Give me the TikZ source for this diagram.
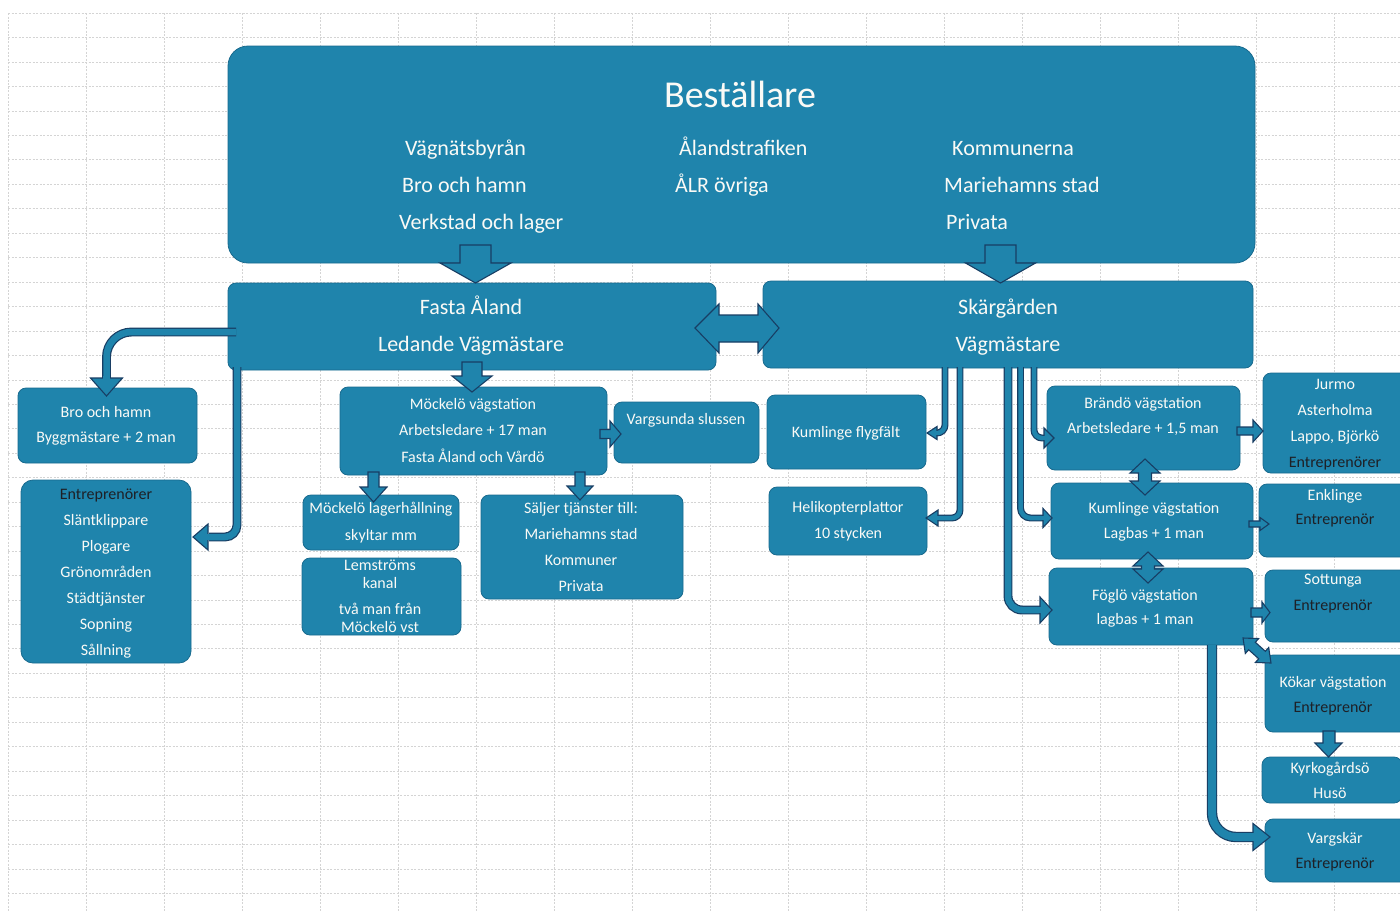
\documentclass[tikz,border=0pt]{standalone}
\usepackage{fontspec}
\setmainfont{Carlito}
\definecolor{teal1}{RGB}{31,132,172}
\definecolor{boxedge}{RGB}{24,106,142}
\definecolor{anav}{RGB}{24,62,100}
\definecolor{wtxt}{RGB}{250,250,246}
\definecolor{dtxt}{RGB}{30,32,38}
\definecolor{gridc}{RGB}{212,212,212}
\newcommand{\dk}[1]{\textcolor{dtxt}{#1}}
\newcommand{\boxlines}[6]{\foreach \ltext [count=\i] in {#6} {\node[#5] (#1-\i) at (#2,{#3+(\i-1)*#4}) {\ltext};}}
\newcommand{\headL}[5]{\filldraw[head] (#1,#2) -- (#1+#4,#2-#3) -- (#1+#4,#2+#3) -- cycle; \fill[teal1] (#1+#4-0.9,#2-#5) rectangle (#1+#4+1.6,#2+#5);}
\newcommand{\headR}[5]{\filldraw[head] (#1,#2) -- (#1-#4,#2-#3) -- (#1-#4,#2+#3) -- cycle; \fill[teal1] (#1-#4+0.9,#2-#5) rectangle (#1-#4-1.6,#2+#5);}
\newcommand{\headD}[5]{\filldraw[head] (#1,#2) -- (#1-#3,#2-#4) -- (#1+#3,#2-#4) -- cycle; \fill[teal1] (#1-#5,#2-#4+0.9) rectangle (#1+#5,#2-#4-1.6);}
\tikzset{
 box/.style={draw=boxedge, line width=0.8pt, fill=teal1, rounded corners=8pt, inner sep=0pt},
 ln/.style={inner sep=0pt, text height=10.3pt, text depth=0pt, text=wtxt, font=\fontsize{16}{19}\selectfont},
 lnh/.style={inner sep=0pt, text height=14.2pt, text depth=0pt, text=wtxt, font=\fontsize{22}{26}\selectfont},
 lnt/.style={inner sep=0pt, text height=24.5pt, text depth=0pt, text=wtxt, font=\fontsize{38}{44}\selectfont},
 blk/.style={draw=anav, fill=teal1, line width=1.1pt, line join=miter},
 head/.style={draw=anav, fill=teal1, line width=1.1pt, line join=miter},
 tube/.style={draw=anav, line width=1.2pt, double=teal1, double distance=#1pt},
 gridl/.style={draw=gridc, line width=0.5pt, dash pattern=on 2pt off 1.5pt},
}
\begin{document}
\begin{tikzpicture}[x=1pt,y=-1pt]
\clip (0,0) rectangle (1400,911);
\fill[white] (0,0) rectangle (1400,911);
% grid
\foreach \x in {8,86,...,1400} \draw[gridl] (\x,13) -- (\x,911);
\foreach \j in {0,...,36} \draw[gridl] (8,{13+\j*24.45}) -- (1400,{13+\j*24.45});

% boxes
\node[box, rounded corners=20pt, minimum width=1027pt, minimum height=217pt] (bestall) at (741.5,154.5) {};
\node[box, minimum width=488pt, minimum height=87pt] (fasta) at (472,326.5) {};
\node[box, minimum width=490pt, minimum height=87pt] (skar) at (1008,324.5) {};
\node[box, minimum width=179pt, minimum height=75pt] (bro) at (107.5,425.5) {};
\node[box, rounded corners=12pt, minimum width=170pt, minimum height=183pt] (entr) at (106,571.5) {};
\node[box, minimum width=267pt, minimum height=88pt] (mock) at (473.5,431) {};
\node[box, minimum width=145pt, minimum height=61pt] (vargs) at (686.5,432.5) {};
\node[box, minimum width=156pt, minimum height=55pt] (lager) at (381,522.5) {};
\node[box, minimum width=159pt, minimum height=77pt] (lem) at (381.5,596.5) {};
\node[box, minimum width=202pt, minimum height=104pt] (salj) at (582,547) {};
\node[box, minimum width=159pt, minimum height=74pt] (kfly) at (846.5,432) {};
\node[box, minimum width=158pt, minimum height=68pt] (heli) at (848,521) {};
\node[box, minimum width=193pt, minimum height=84pt] (brando) at (1143.5,428) {};
\node[box, minimum width=145pt, minimum height=100pt] (jurmo) at (1335.5,423) {};
\node[box, minimum width=202pt, minimum height=76pt] (kumv) at (1152,521) {};
\node[box, minimum width=149pt, minimum height=73pt] (enkl) at (1333.5,520.5) {};
\node[box, minimum width=204pt, minimum height=77pt] (fogl) at (1151,606.5) {};
\node[box, minimum width=143pt, minimum height=72pt] (sott) at (1336.5,606) {};
\node[box, minimum width=143pt, minimum height=77pt] (kokar) at (1336.5,693.5) {};
\node[box, minimum width=140pt, minimum height=46pt] (kyrk) at (1332,780) {};
\node[box, minimum width=143pt, minimum height=63pt] (vargsk) at (1336.5,850.5) {};

% block arrows
\filldraw[blk] (460,245) -- (491,245) -- (491,263) -- (511,263) -- (475.5,283) -- (440,263) -- (460,263) -- cycle;
\filldraw[blk] (985,245) -- (1016,245) -- (1016,263) -- (1035.5,263) -- (1000.5,283) -- (965.5,263) -- (985,263) -- cycle;
\filldraw[blk] (695,328) -- (719,304) -- (719,315) -- (758,315) -- (758,304) -- (779,328) -- (758,353) -- (758,342) -- (719,342) -- (719,353) -- cycle;
\filldraw[blk] (462,362) -- (482,362) -- (482,376) -- (492,376) -- (472,392) -- (452,376) -- (462,376) -- cycle;
\filldraw[blk] (600,429.5) -- (610,429.5) -- (610,421) -- (621,434) -- (610,447) -- (610,438.5) -- (600,438.5) -- cycle;
\filldraw[blk] (368,472) -- (379,472) -- (379,487) -- (387,487) -- (373.5,502) -- (360,487) -- (368,487) -- cycle;
\filldraw[blk] (575,472) -- (585,472) -- (585,486) -- (593,486) -- (580,500) -- (567,486) -- (575,486) -- cycle;
\filldraw[blk] (1145,459) -- (1160,473) -- (1151.5,473) -- (1151.5,481) -- (1160,481) -- (1145,495) -- (1130,481) -- (1138.5,481) -- (1138.5,473) -- (1130,473) -- cycle;
\filldraw[blk] (1148,552) -- (1163,566) -- (1154.5,566) -- (1154.5,569) -- (1163,569) -- (1148,583) -- (1133,569) -- (1141.5,569) -- (1141.5,566) -- (1133,566) -- cycle;
\filldraw[blk] (1237,427) -- (1253,427) -- (1253,420) -- (1263,431) -- (1253,442) -- (1253,435) -- (1237,435) -- cycle;
\filldraw[blk] (1249,521) -- (1260,521) -- (1260,517.5) -- (1269,524) -- (1260,530.5) -- (1260,527) -- (1249,527) -- cycle;
\filldraw[blk] (1251,608) -- (1262,608) -- (1262,602) -- (1270,612.5) -- (1262,623) -- (1262,617) -- (1251,617) -- cycle;
\filldraw[blk] (1323,731) -- (1335,731) -- (1335,743) -- (1342,743) -- (1328.5,757) -- (1315,743) -- (1323,743) -- cycle;
\begin{scope}[shift={(1257,650.5)}, rotate=-41.8]
\filldraw[blk] (-18.75,0) -- (-6.75,-10) -- (-6.75,-5) -- (6.75,-5) -- (6.75,-10) -- (18.75,0) -- (6.75,10) -- (6.75,5) -- (-6.75,5) -- (-6.75,10) -- cycle;
\end{scope}

% curved connectors
\draw[tube=6.5, rounded corners=25pt] (236,332) -| (106.5,379);
\headD{106.5}{396}{16}{18}{3.25}
\draw[tube=6.5, rounded corners=12pt] (237,367) |- (209,537);
\headL{193}{537}{13}{15}{3.25}
\draw[tube=4.5, rounded corners=8pt] (945,367) |- (936,433);
\headL{927}{433}{6.5}{10}{2.25}
\draw[tube=4.5, rounded corners=8pt] (960,367) |- (937,518);
\headL{926}{518}{8}{12}{2.25}
\draw[tube=4.5, rounded corners=8pt] (1034,367) |- (1045,438);
\headR{1054}{438}{10}{10}{2.25}
\draw[tube=4.5, rounded corners=10pt] (1020.5,367) |- (1044,518);
\headR{1052}{518}{9.5}{9}{2.25}
\draw[tube=6.5, rounded corners=14pt] (1008,367) |- (1041,610);
\headR{1052}{610}{13}{12}{3.25}
\draw[tube=8, rounded corners=24pt] (1212,645) |- (1254,837);
\headR{1270}{837}{13.5}{17}{4}

% texts
\node[lnt] (t-best) at (740,95) {Beställare};
\node[lnh, anchor=west] (t-b1) at (405,148) {Vägnätsbyrån};
\node[lnh, anchor=west] (t-b2) at (402,185) {Bro och hamn};
\node[lnh, anchor=west] (t-b3) at (399,222) {Verkstad och lager};
\node[lnh, anchor=west] (t-b4) at (679,148) {Ålandstrafiken};
\node[lnh, anchor=west] (t-b5) at (675,185) {ÅLR övriga};
\node[lnh, anchor=west] (t-b6) at (952,148) {Kommunerna};
\node[lnh, anchor=west] (t-b7) at (944,185) {Mariehamns stad};
\node[lnh, anchor=west] (t-b8) at (946,222) {Privata};
\boxlines{t-fasta}{471}{307}{37}{lnh}{Fasta Åland, Ledande Vägmästare}
\boxlines{t-skar}{1008}{307}{37}{lnh}{Skärgården, Vägmästare}
\boxlines{t-bro}{106}{412}{25}{ln}{Bro och hamn, Byggmästare + 2 man}
\boxlines{t-entr}{106}{494}{26}{ln}{\dk{Entreprenörer}, Släntklippare, Plogare, Grönområden, Städtjänster, Sopning, Sållning}
\boxlines{t-mock}{473}{404}{26.5}{ln}{Möckelö vägstation, Arbetsledare + 17 man, Fasta Åland och Vårdö}
\node[ln] (t-vargs) at (686,419) {Vargsunda slussen};
\boxlines{t-lager}{381}{508}{27}{ln}{Möckelö lagerhållning, skyltar mm}
\boxlines{t-lema}{380}{565}{18}{ln}{Lemströms, kanal}
\boxlines{t-lemb}{380}{609}{18}{ln}{två man från, Möckelö vst}
\boxlines{t-salj}{581}{508}{26}{ln}{Säljer tjänster till:, Mariehamns stad, Kommuner, Privata}
\node[ln] (t-kfly) at (846,432) {Kumlinge flygfält};
\boxlines{t-heli}{848}{507}{26}{ln}{Helikopterplattor, 10 stycken}
\boxlines{t-brando}{1143}{403}{25}{ln}{Brändö vägstation, {Arbetsledare + 1,5 man}}
\boxlines{t-jurmo}{1335}{384}{26}{ln}{Jurmo, Asterholma, {Lappo, Björkö}, \dk{Entreprenörer}}
\boxlines{t-kumv}{1154}{508}{25}{ln}{Kumlinge vägstation, Lagbas + 1 man}
\boxlines{t-enkl}{1335}{495}{24}{ln}{Enklinge, \dk{Entreprenör}}
\boxlines{t-fogl}{1145}{595}{24.5}{ln}{Föglö vägstation, lagbas + 1 man}
\boxlines{t-sott}{1333}{579}{26}{ln}{Sottunga, \dk{Entreprenör}}
\boxlines{t-kokar}{1333}{682}{25}{ln}{Kökar vägstation, \dk{Entreprenör}}
\boxlines{t-kyrk}{1330}{768}{25}{ln}{Kyrkogårdsö, Husö}
\boxlines{t-vargsk}{1335}{838}{25}{ln}{Vargskär, \dk{Entreprenör}}
\end{tikzpicture}
\end{document}
